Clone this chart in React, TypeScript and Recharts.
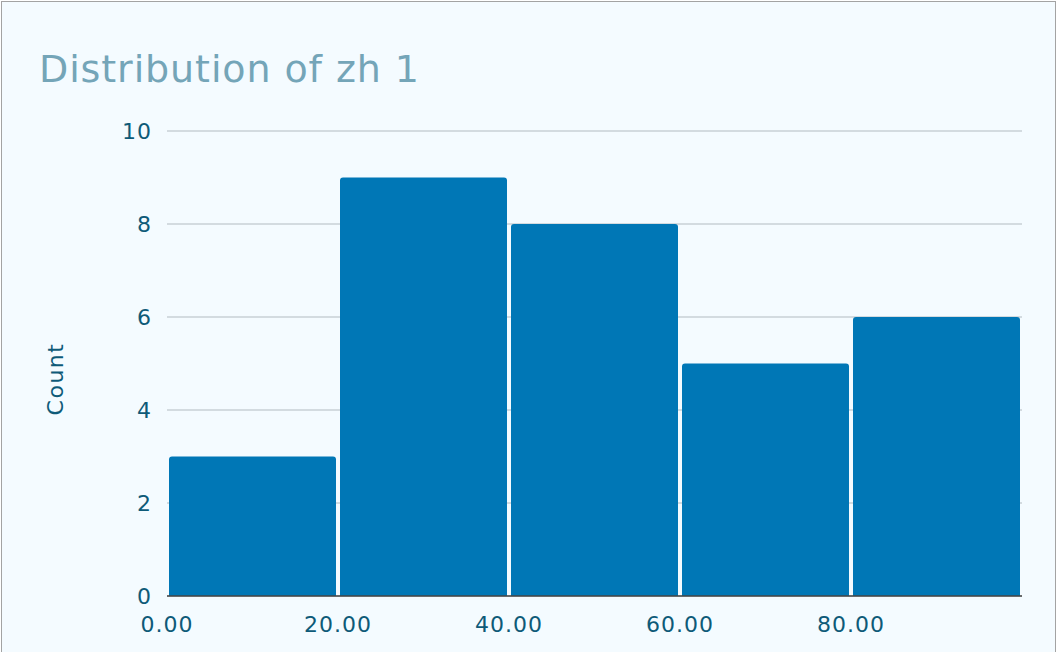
import React from 'react';
import { BarChart, Bar, XAxis, YAxis, CartesianGrid } from 'recharts';

const binStarts = [0, 20, 40, 60, 80];
const binWidth = 20;
const counts = [3, 9, 8, 5, 6];
const xTicks = [0, 20, 40, 60, 80];
const yTicks = [0, 2, 4, 6, 8, 10];

const data = binStarts.map((s, i) => ({ mid: s + binWidth / 2, count: counts[i] }));

const FONT = '"DejaVu Sans", Verdana, sans-serif';
const AXIS_TEXT = '#0e5a78';

export default function App() {
  return (
    <div
      style={{
        position: 'absolute',
        left: 1,
        top: 1,
        width: 1055,
        height: 653,
        border: '1px solid #a3a3a3',
        boxSizing: 'border-box',
        background: '#f4fbff',
        fontFamily: FONT,
      }}
    >
      <div
        style={{
          position: 'absolute',
          left: 37,
          top: 42,
          fontSize: 38,
          letterSpacing: 0.9,
          color: '#74a5b8',
          whiteSpace: 'nowrap',
          lineHeight: '50px',
        }}
      >
        Distribution of zh 1
      </div>
      <div
        style={{
          position: 'absolute',
          left: 53,
          top: 377,
          fontSize: 22,
          letterSpacing: 1.5,
          color: AXIS_TEXT,
          transform: 'translate(-50%, -50%) rotate(-90deg)',
          whiteSpace: 'nowrap',
        }}
      >
        Count
      </div>
      <BarChart
        width={1053}
        height={651}
        data={data}
        margin={{ top: 129, right: 33, left: 0, bottom: 2 }}
        style={{ position: 'absolute', left: 0, top: 0 }}
      >
        <CartesianGrid vertical={false} stroke="#c9d1d6" strokeWidth={1.5} />
        <XAxis
          dataKey="mid"
          type="number"
          domain={[0, 100]}
          ticks={xTicks}
          allowDataOverflow
          height={55}
          tickSize={0}
          tickMargin={20}
          tickFormatter={(v: number) => v.toFixed(2)}
          tick={{ fill: AXIS_TEXT, fontSize: 22, fontFamily: FONT, letterSpacing: 1 }}
          axisLine={{ stroke: '#444', strokeWidth: 1.5 }}
          tickLine={false}
        />
        <YAxis
          width={165}
          domain={[0, 10]}
          ticks={yTicks}
          tickSize={0}
          tickMargin={15}
          axisLine={false}
          tickLine={false}
          tick={{ fill: AXIS_TEXT, fontSize: 22, fontFamily: FONT, letterSpacing: 1 }}
        />
        <Bar
          dataKey="count"
          fill="#0077b6"
          barSize={167}
          radius={[3, 3, 0, 0]}
          isAnimationActive={false}
        />
      </BarChart>
    </div>
  );
}
